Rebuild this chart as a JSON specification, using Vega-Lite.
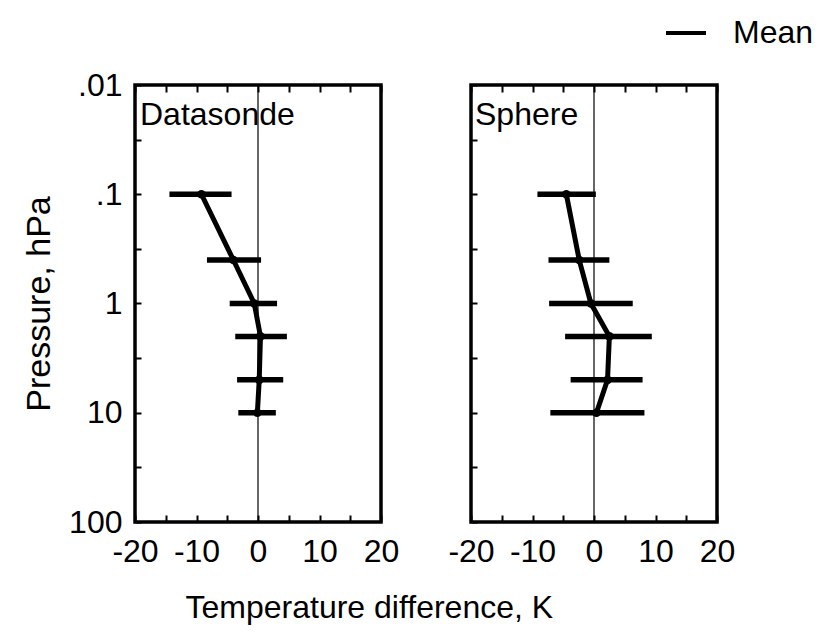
{
  "$schema": "https://vega.github.io/schema/vega-lite/v6.json",
  "autosize": {"type": "pad"},
  "padding": {"left": 20, "top": 11, "right": 5, "bottom": 8},
  "bounds": "flush",
  "datasets": {
    "datasonde": [
      {"p": 0.1, "mean": -9.2, "lo": -14.4, "hi": -4.3},
      {"p": 0.4, "mean": -4.0, "lo": -8.3, "hi": 0.5},
      {"p": 1, "mean": -0.6, "lo": -4.6, "hi": 3.1},
      {"p": 2, "mean": 0.4, "lo": -3.7, "hi": 4.7},
      {"p": 5, "mean": 0.2, "lo": -3.4, "hi": 4.1},
      {"p": 10, "mean": -0.1, "lo": -3.2, "hi": 2.9}
    ],
    "sphere": [
      {"p": 0.1, "mean": -4.5, "lo": -9.2, "hi": 0.3},
      {"p": 0.4, "mean": -2.4, "lo": -7.4, "hi": 2.5},
      {"p": 1, "mean": -0.5, "lo": -7.3, "hi": 6.3},
      {"p": 2, "mean": 2.5, "lo": -4.7, "hi": 9.4},
      {"p": 5, "mean": 2.2, "lo": -3.8, "hi": 7.9},
      {"p": 10, "mean": 0.4, "lo": -7.1, "hi": 8.2}
    ]
  },
  "spacing": 90,
  "hconcat": [
    {
      "width": 246,
      "height": 437,
      "data": {"name": "datasonde"},
      "resolve": {"axis": {"x": "independent"}},
      "layer": [
        {
          "data": {"values": [{"zero": 0}]},
          "mark": {"type": "rule", "color": "black", "strokeWidth": 1.2},
          "encoding": {
            "x": {"field": "zero", "type": "quantitative", "scale": {"domain": [-20, 20], "nice": false, "zero": false},
              "axis": {"orient": "top", "values": [-20, -15, -10, -5, 0, 5, 10, 15, 20], "labels": false, "tickSize": -7, "title": null, "domain": false}}
          }
        },
        {
          "mark": {"type": "rule", "color": "black", "strokeWidth": 5.5},
          "encoding": {
            "x": {"field": "lo", "type": "quantitative",
              "axis": {"orient": "bottom", "values": [-20, -15, -10, -5, 0, 5, 10, 15, 20], "tickSize": -7, "labelPadding": 21,
                "labelExpr": "datum.value % 10 === 0 ? '' + datum.value : ''", "labelFlush": false, "labelOverlap": false,
                "title": "Temperature difference, K", "titleAnchor": "start", "titleAlign": "left", "titleX": 50, "titleY": 95, "titleBaseline": "alphabetic"}},
            "x2": {"field": "hi"},
            "y": {"field": "p", "type": "quantitative", "scale": {"type": "log", "domain": [0.01, 100], "reverse": true, "nice": false},
              "axis": {"values": [0.01, 0.0316227766, 0.1, 0.316227766, 1, 3.16227766, 10, 31.6227766, 100], "tickSize": -6, "labelPadding": 19,
                "labelExpr": "datum.value === 0.01 ? '.01' : datum.value === 0.1 ? '.1' : datum.value === 1 ? '1' : datum.value === 10 ? '10' : datum.value === 100 ? '100' : ''",
                "labelFlush": false, "labelOverlap": false, "title": "Pressure, hPa", "titleFontSize": 34, "titlePadding": 12}}
          }
        },
        {
          "mark": {"type": "line", "strokeWidth": 5},
          "encoding": {
            "x": {"field": "mean", "type": "quantitative", "axis": null},
            "y": {"field": "p", "type": "quantitative"},
            "order": {"field": "p"},
            "color": {"datum": "Mean", "scale": {"range": ["black"]},
              "legend": {"orient": "none", "legendX": 529, "legendY": -74, "title": null, "symbolType": "stroke", "symbolSize": 1600, "symbolStrokeWidth": 4, "labelFontSize": 32, "labelOffset": 25, "labelColor": "black", "padding": 0}}
          }
        },
        {
          "mark": {"type": "point", "filled": true, "size": 75, "color": "black", "opacity": 1},
          "encoding": {
            "x": {"field": "mean", "type": "quantitative", "axis": null},
            "y": {"field": "p", "type": "quantitative"}
          }
        },
        {
          "data": {"values": [{"label": "Datasonde", "lx": -20, "ly": 0.01}]},
          "mark": {"type": "text", "align": "left", "baseline": "top", "fontSize": 32, "dx": 5, "dy": 15, "color": "black"},
          "encoding": {
            "x": {"field": "lx", "type": "quantitative", "axis": null},
            "y": {"field": "ly", "type": "quantitative"},
            "text": {"field": "label"}
          }
        }
      ]
    },
    {
      "width": 246,
      "height": 437,
      "data": {"name": "sphere"},
      "resolve": {"axis": {"x": "independent"}},
      "layer": [
        {
          "data": {"values": [{"zero": 0}]},
          "mark": {"type": "rule", "color": "black", "strokeWidth": 1.2},
          "encoding": {
            "x": {"field": "zero", "type": "quantitative", "scale": {"domain": [-20, 20], "nice": false, "zero": false},
              "axis": {"orient": "top", "values": [-20, -15, -10, -5, 0, 5, 10, 15, 20], "labels": false, "tickSize": -7, "title": null, "domain": false}}
          }
        },
        {
          "mark": {"type": "rule", "color": "black", "strokeWidth": 5.5},
          "encoding": {
            "x": {"field": "lo", "type": "quantitative",
              "axis": {"orient": "bottom", "values": [-20, -15, -10, -5, 0, 5, 10, 15, 20], "tickSize": -7, "labelPadding": 21,
                "labelExpr": "datum.value % 10 === 0 ? '' + datum.value : ''", "labelFlush": false, "labelOverlap": false, "title": null}},
            "x2": {"field": "hi"},
            "y": {"field": "p", "type": "quantitative", "scale": {"type": "log", "domain": [0.01, 100], "reverse": true, "nice": false},
              "axis": {"values": [0.01, 0.0316227766, 0.1, 0.316227766, 1, 3.16227766, 10, 31.6227766, 100], "tickSize": -6, "labels": false, "title": null}}
          }
        },
        {
          "mark": {"type": "line", "strokeWidth": 5, "color": "black"},
          "encoding": {
            "x": {"field": "mean", "type": "quantitative", "axis": null},
            "y": {"field": "p", "type": "quantitative"},
            "order": {"field": "p"}
          }
        },
        {
          "mark": {"type": "point", "filled": true, "size": 75, "color": "black", "opacity": 1},
          "encoding": {
            "x": {"field": "mean", "type": "quantitative", "axis": null},
            "y": {"field": "p", "type": "quantitative"}
          }
        },
        {
          "data": {"values": [{"label": "Sphere", "lx": -20, "ly": 0.01}]},
          "mark": {"type": "text", "align": "left", "baseline": "top", "fontSize": 32, "dx": 4, "dy": 15, "color": "black"},
          "encoding": {
            "x": {"field": "lx", "type": "quantitative", "axis": null},
            "y": {"field": "ly", "type": "quantitative"},
            "text": {"field": "label"}
          }
        }
      ]
    }
  ],
  "config": {
    "font": "Liberation Sans",
    "background": "white",
    "view": {"stroke": "black", "strokeWidth": 3.5},
    "axis": {"domain": false, "grid": false, "tickColor": "black", "tickWidth": 2, "labelColor": "black", "titleColor": "black",
      "labelFont": "Liberation Sans", "titleFont": "Liberation Sans", "labelFontSize": 32, "titleFontSize": 32, "titleFontWeight": "normal"},
    "legend": {"labelFont": "Liberation Sans"}
  }
}
